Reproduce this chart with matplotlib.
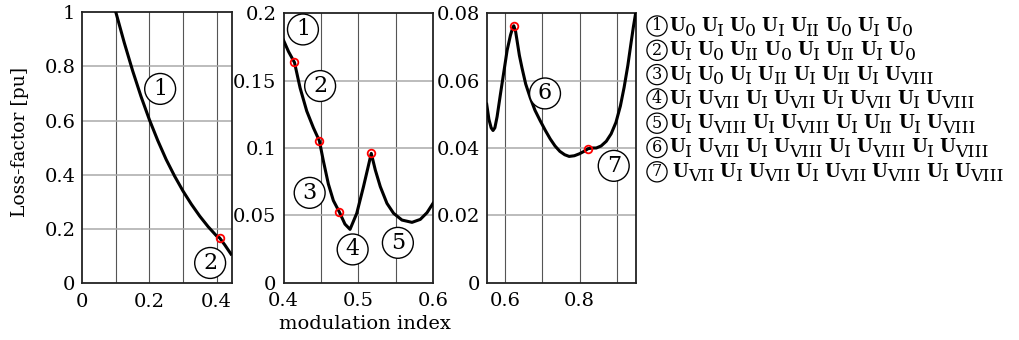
import matplotlib
matplotlib.use("Agg")
import matplotlib.pyplot as plt

plt.rcParams['font.family'] = ['DejaVu Serif']
plt.rcParams['mathtext.fontset'] = 'dejavuserif'

# ---------------- data ----------------
# left panel: segment (1) then (2)
left_x = [0.100, 0.125, 0.150, 0.175, 0.200, 0.225, 0.250, 0.275, 0.300, 0.325, 0.350, 0.375,
          0.400, 0.409, 0.425, 0.443]
left_y = [1.000, 0.888, 0.784, 0.689, 0.603, 0.526, 0.456, 0.395, 0.340, 0.291, 0.247, 0.208,
          0.174, 0.167, 0.140, 0.107]
left_marks_x = [0.409]
left_marks_y = [0.167]

# middle panel
mid_x = [0.400, 0.4067, 0.4147, 0.4222, 0.4311, 0.440, 0.448, 0.4533, 0.460, 0.4667, 0.4747,
         0.4822, 0.489, 0.498, 0.507, 0.5138, 0.5174, 0.5228, 0.5295, 0.5384, 0.5473,
         0.5585, 0.5719, 0.583, 0.592, 0.600]
mid_y = [0.180, 0.1716, 0.1635, 0.1446, 0.1274, 0.115, 0.1053, 0.0905, 0.0733, 0.061, 0.0525,
         0.0435, 0.0396, 0.0515, 0.0713, 0.0874, 0.0960, 0.0837, 0.0713, 0.0589, 0.0515,
         0.0465, 0.0448, 0.0470, 0.0520, 0.0589]
mid_marks_x = [0.4147, 0.448, 0.4747, 0.5174]
mid_marks_y = [0.1635, 0.1053, 0.0525, 0.0960]

# right panel
right_x = [0.550, 0.556, 0.562, 0.567, 0.572, 0.578, 0.587, 0.596, 0.605, 0.614, 0.620, 0.623,
           0.628, 0.632, 0.638, 0.645, 0.655, 0.667, 0.680, 0.694, 0.708, 0.721, 0.734, 0.747,
           0.760, 0.772, 0.786, 0.800, 0.812, 0.823, 0.835, 0.845, 0.858, 0.872, 0.885, 0.898,
           0.910, 0.920, 0.930, 0.938, 0.945, 0.951]
right_y = [0.0530, 0.0485, 0.0460, 0.0452, 0.0460, 0.0493, 0.0560, 0.0625, 0.0690, 0.0735, 0.0757, 0.0763,
           0.0745, 0.0717, 0.0675, 0.0638, 0.0590, 0.0550, 0.0512, 0.0481, 0.0452, 0.0427, 0.0406, 0.0390,
           0.0380, 0.0375, 0.0377, 0.0383, 0.0390, 0.0398, 0.0400, 0.0400, 0.0406, 0.0420, 0.0442, 0.0476,
           0.0525, 0.0580, 0.0645, 0.0707, 0.0760, 0.0800]
right_marks_x = [0.623, 0.823]
right_marks_y = [0.0763, 0.0398]

# circled region labels: (number, x, y) per panel
left_labels = [("1", 0.232, 0.717), ("2", 0.381, 0.074)]
mid_labels = [("1", 0.426, 0.188), ("2", 0.449, 0.146), ("3", 0.435, 0.0667),
              ("4", 0.4925, 0.0247), ("5", 0.553, 0.0296)]
right_labels = [("6", 0.707, 0.0562), ("7", 0.892, 0.0347)]

# tick labels
left_xticks = [0, 0.2, 0.4]
left_xticklabels = ["0", "0.2", "0.4"]
left_yticks = [0, 0.2, 0.4, 0.6, 0.8, 1.0]
left_yticklabels = ["0", "0.2", "0.4", "0.6", "0.8", "1"]
mid_xticks = [0.4, 0.5, 0.6]
mid_xticklabels = ["0.4", "0.5", "0.6"]
mid_yticks = [0, 0.05, 0.1, 0.15, 0.2]
mid_yticklabels = ["0", "0.05", "0.1", "0.15", "0.2"]
right_xticks = [0.6, 0.8]
right_xticklabels = ["0.6", "0.8"]
right_yticks = [0, 0.02, 0.04, 0.06, 0.08]
right_yticklabels = ["0", "0.02", "0.04", "0.06", "0.08"]

# switching sequences for the legend
legend_nums = ["1", "2", "3", "4", "5", "6", "7"]
legend_seqs = [
    ["0", "I", "0", "I", "II", "0", "I", "0"],
    ["I", "0", "II", "0", "I", "II", "I", "0"],
    ["I", "0", "I", "II", "I", "II", "I", "VIII"],
    ["I", "VII", "I", "VII", "I", "VII", "I", "VIII"],
    ["I", "VIII", "I", "VIII", "I", "II", "I", "VIII"],
    ["I", "VII", "I", "VIII", "I", "VIII", "I", "VIII"],
    ["VII", "I", "VII", "I", "VII", "VIII", "I", "VIII"],
]

# ---------------- figure ----------------
W, H = 1020, 340
fig = plt.figure(figsize=(W / 100, H / 100), dpi=100)

def px_axes(x0, y0, x1, y1):
    return fig.add_axes([x0 / W, 1 - y1 / H, (x1 - x0) / W, (y1 - y0) / H])

axL = px_axes(82.3, 12.3, 232.3, 283.0)
axM = px_axes(283.5, 13.3, 433.0, 282.7)
axR = px_axes(486.7, 13.3, 636.0, 282.7)

FS = 14

def style(ax, xlim, ylim, xt, xtl, yt, ytl, gx, gy):
    ax.set_xlim(*xlim)
    ax.set_ylim(*ylim)
    ax.set_xticks(xt)
    ax.set_xticklabels(xtl, fontsize=FS)
    ax.set_yticks(yt)
    ax.set_yticklabels(ytl, fontsize=FS)
    ax.tick_params(length=0, pad=5)
    ax.tick_params(axis='x', pad=7)
    for v in gx:
        ax.axvline(v, color='#555555', lw=0.8, zorder=0)
    for v in gy:
        ax.axhline(v, color='#aaaaaa', lw=1.1, zorder=0)
    for s in ax.spines.values():
        s.set_linewidth(1.3)
        s.set_color('#222222')

style(axL, (0, 0.447), (0, 1.0), left_xticks, left_xticklabels, left_yticks, left_yticklabels,
      [0.1, 0.2, 0.3, 0.4], [0.2, 0.4, 0.6, 0.8])
style(axM, (0.4, 0.6), (0, 0.2), mid_xticks, mid_xticklabels, mid_yticks, mid_yticklabels,
      [0.45, 0.5, 0.55], [0.05, 0.1, 0.15])
style(axR, (0.55, 0.952), (0, 0.08), right_xticks, right_xticklabels, right_yticks, right_yticklabels,
      [0.6, 0.7, 0.8, 0.9], [0.02, 0.04, 0.06])

for ax, xs, ys, mx, my, labs in [
    (axL, left_x, left_y, left_marks_x, left_marks_y, left_labels),
    (axM, mid_x, mid_y, mid_marks_x, mid_marks_y, mid_labels),
    (axR, right_x, right_y, right_marks_x, right_marks_y, right_labels),
]:
    ax.plot(xs, ys, color='black', lw=2.2, solid_joinstyle='round', zorder=3)
    ax.plot(mx, my, 'o', ms=5.5, mfc='none', mec='red', mew=1.3, zorder=4)
    for n, x, y in labs:
        ax.text(x, y, n, fontsize=16, ha='center', va='center', zorder=5,
                bbox=dict(boxstyle='circle,pad=0.2', fc='white', ec='black', lw=1.0))

fig.text(20 / W, 1 - 142 / H, "Loss-factor [pu]", rotation=90, ha='center', va='center', fontsize=13.5)
fig.text(365 / W, 1 - 324 / H, "modulation index", ha='center', va='center', fontsize=FS)

# legend: laid out token by token (bold U + roman subscript)
renderer = fig.canvas.get_renderer()
U_FS, SUB_FS, GAP, SUB_DROP = 13, 12.5, 5.5, 4.5
for i, (n, seq) in enumerate(zip(legend_nums, legend_seqs)):
    yc = 26 + 24.3 * i
    fig.text(657 / W, 1 - yc / H, n, fontsize=11.5, ha='center', va='center',
             bbox=dict(boxstyle='circle,pad=0.1', fc='white', ec='black', lw=0.9))
    x = 669 if i < 6 else 672
    for t in seq:
        tu = fig.text(x / W, 1 - (yc + 5) / H, "U", fontsize=U_FS, fontweight='bold',
                      ha='left', va='baseline')
        x += tu.get_window_extent(renderer).width
        ts = fig.text(x / W, 1 - (yc + 5 + SUB_DROP) / H, t, fontsize=SUB_FS,
                      ha='left', va='baseline')
        x += ts.get_window_extent(renderer).width + GAP

fig.savefig("out.png", dpi=100)
